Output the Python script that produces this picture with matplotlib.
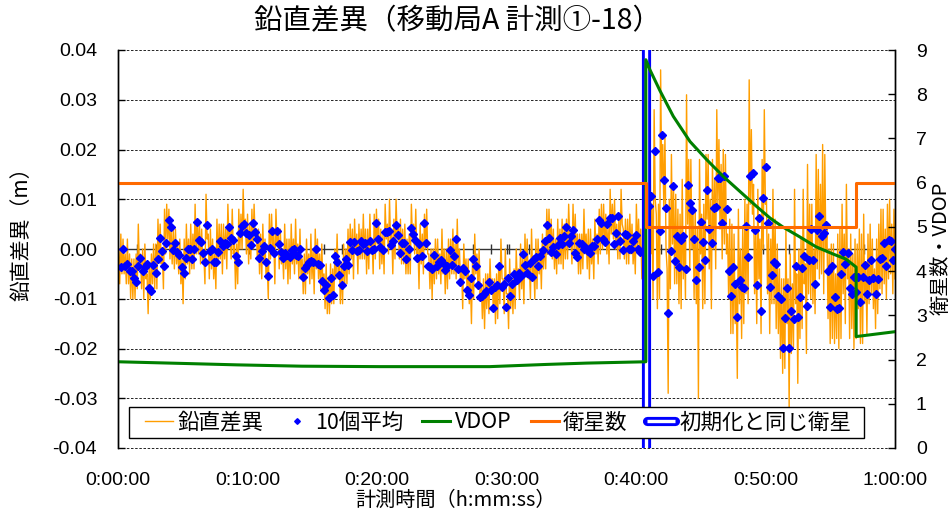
import numpy as np
import matplotlib
matplotlib.use("Agg")
import matplotlib.pyplot as plt
import matplotlib.patheffects as pe
from matplotlib.lines import Line2D
from matplotlib.patches import Rectangle
from matplotlib.ticker import FormatStrFormatter

plt.rcParams['font.family'] = ['Noto Sans CJK JP', 'DejaVu Sans']
plt.rcParams['axes.unicode_minus'] = False

# ---------------- data (vertical difference in mm, time in minutes) ----------------
# raw vertical difference, before initialisation (about every 5 s)
orange_pre = [
    0,-7, 3,-5, 2,-5, -1,-7, 2,-7, -1,-10, -2,-10, -2,-10, -1,-8, 5,-4,
    -1,-8, 0,-10, 1,-6, -5,-13, -3,-10, -1,-7, 1,-8, 1,-8, 6,-2, 5,-3,
    -1,-8, 8,-1, 9,2, 8,-2, 4,-3, 4,-4, 4,-3, 1,-5, 2,-7, -2,-11,
    2,-6, 5,-3, 2,-5, 5,-4, 3,-4, 9,-1, 6,-1, 5,-3, 4,-3, -1,-7,
    11,2, 3,-6, 4,-4, 2,-6, -1,-8, 6,-3, 5,-2, 5,-5, 5,-2, 4,-4,
    9,2, 4,-2, 8,-1, 1,-8, 1,-7, 8,0, 7,0, 12,3, 6,-1, 7,-3,
    5,-2, 8,0, 9,2, 4,-2, 4,-5, 3,-6, 5,-3, 2,-6, -3,-10, 7,-2,
    7,0, 3,-7,
    8,1, 4,-4, 4,-3, 0,-6, 5,-4, 2,-7, 2,-6, 5,-3, 2,-5, 6,-3,
    1,-6, 4,-6, -2,-9, -1,-9, 2,-5, -1,-7, 3,-6, 0,-9, 4,-4, 2,-6,
    -1,-8, 1,-8, -5,-12, -3,-13, -6,-13, -3,-11, -4,-11, 0,-6, 3,-6, -2,-11,
    -3,-11, 1,-7, 0,-7, 4,-5, 5,-2, 4,-6, 6,-1, 3,-5, 5,-2, 4,-2,
    7,-2, 4,-5, 4,-4, 7,-1, 2,-5, 7,-2, 8,1, 6,-4, 4,-3, 3,-5,
    9,2, 5,-1, 10,1, 4,-5, 6,-2, 10,2, 5,-2, 6,-3, 4,-3, 5,-5,
    2,-5, 3,-5, 9,2, 5,-1, 8,-1, 1,-8, 5,-3, 3,-5, 7,0, 8,-1,
    -1,-8, 0,-10, 0,-7, 2,-6,
    2,-5, -1,-7, 4,-5, 0,-9, 0,-8, 2,-6, 2,-5, 4,-5, 1,-6, 6,-4,
    0,-7, -4,-12, 1,-6, -2,-8, -2,-11, -6,-15, -2,-10, 3,-5, -1,-8, 0,-9,
    -7,-14, -6,-16, -5,-12, -5,-13, -2,-9, -6,-12, -6,-15, -5,-14, -3,-11, 2,-6,
    -6,-13, 0,-9, -9,-16, -2,-12, -6,-13, -4,-12, 0,-7, -4,-10, 1,-8, -2,-11,
    3,-5, 2,-6, -3,-10, 4,-5, -3,-10, 2,-8, 2,-5, 0,-8, 3,-4, 2,-4,
    8,-1, 8,-1, 6,-2, 4,-4, 2,-5, 6,-3, 4,-3, 6,-4, 5,-2, 6,-2,
    9,2, 3,-3, 9,0, 7,-2, 3,-5, 3,-5, 3,-4, 8,-1, 3,-4, 4,-6,
    4,-3, 2,-6, 6,-1, 3,-3, 8,-1, 9,0, 9,1, 7,-1, 4,-3, 12,3,
    9,2, 10,0, 5,-2, 6,-2, 12,5, 4,-2, 6,-3, 6,-3, 7,-1, 5,-3,
    2,-5, 9,0, 6,-1, 4,-6, 3,-4,
]
# raw vertical difference, after initialisation
orange_post = [
    19,1, 35,-1, 9,-10, 28,10, 7,-12, 9,-10, 36,14, 21,8, 23,0, -4,-29,
    10,-8, 19,1, 12,-7, 11,-7, 8,-11, 7,-12, 14,-6, 3,-10, 31,5, 18,-4,
    18,0, 8,-10, 8,-11, 4,-30, 18,-1, 7,-12, 9,-11, 19,6, 19,-4, 10,-12,
    18,0, 14,-4, 28,9, 22,4, 17,-2, 20,1, 19,-1, 3,-10, 6,-17, 5,-17,
    3,-15, -8,-26, 8,-11, 0,-18, 4,-15, 10,-9, 9,-11, 34,9, 24,7, 13,-9,
    3,-15, 12,-6, 2,-17, 18,0, 28,9, 10,-9, 3,-17,
    2,-11, 12,-11, 6,-16, 1,-17, -4,-22, -6,-25, -6,-24, 4,-15, -6,-32, -1,-21,
    -7,-20, 12,-11, -5,-27, 0,-18, 2,-16, 12,-7, -3,-21, 17,-9, 9,-10, 9,-11,
    0,-13, 19,-4, 16,-6, 13,-5, 21,-9, 19,0, 4,-14, 0,-19, 1,-18, 1,-19,
    -5,-18, 3,-20, 4,-18, 9,-9, 3,-15, 13,-6, 0,-18, 3,-16, -1,-20, 2,-18,
    1,-12, 4,-19, 3,-19, 7,-11, -3,-17, 3,-11, 5,-9, 2,-12, -4,-16, 2,-13,
    5,-8, 8,-9, 8,-7, 4,-10, 9,-6, 10,-5, 5,-9, 8,-6,
]
# 10-point averages (every 10 s)
avg_pre = [
    -3.7, 0, -3.4, -3, -4.4, -4.5, -5.8, -6.6, -3.4, -1.8,
    -4.4, -3.6, -3, -7.9, -8.4, -3.2, -4.8, -2, 2.3, -0.5,
    -3.4, 1.2, 5.8, 4.5, -0.2, 1.2, -0.7, -1.3, -3.6, -4.9,
    -1.8, -0.1, 0.1, -2, 0, 5.4, 1.8, 1.5, -0.8, -2.6,
    4.8, -0.5, 0, -2.6, -2.6, -0.7, 1.7, 0.7, 1.3, 1,
    4.5, 2.2, 1.9, -1.5, -2.7, 3.2, 4.7, 5, 3.2, 2.9,
    0.9, 5.2, 3.5, 2, -1.9, -0.5, 0.7, -2.6, -5.4, 0.3,
    3.6, -0.9,
    3.6, 1.1, -0.7, -1.9, -0.9, -1.3, -1.7, -0.2, 0, -1.3,
    -1.5, 0, -5.6, -3.8, -3.2, -2.7, -2.5, -2.6, 0.1, -3,
    -3.2, -6.4, -8.3, -7.2, -9.9, -5.8, -9.2, -1.5, -2.6, -5.2,
    -7.2, -3.5, -2, -3.2, 1.5, -0.3, 1.5, -0.5, -0.2, 1.7,
    1, 1.3, -0.5, 1.7, -0.3, 0, 5.2, 2, 0.5, -0.3,
    3.5, 3.4, 3.6, 0.8, 1.7, 4.8, 2.9, -0.8, 1.3, 1.3,
    -2.1, -0.1, 4.2, 3, 1.8, -1.8, 1, -1.5, 5.2, 1.3,
    -3.5, -3.7, -4, -1.3,
    -3.4, -2.7, -2.3, -2.9, -4.2, -3.4, -0.3, -3.2, -1.5, 2.1,
    -4, -6.6, -3.8, -4.4, -8.3, -9.2, -5.9, -2.1, -3.4, -7.2,
    -9.6, -9.5, -9.1, -8.4, -6.7, -8.3, -11.9, -7.6, -7.2, -3.4,
    -7.6, -7, -11.7, -5.9, -9.5, -7, -5, -6.2, -4.8, -5.4,
    -1.1, -3.2, -4.9, -2.8, -5.6, -2, -1.7, -3.4, -1.5, -0.2,
    1.7, 4.8, 2.3, -0.7, 0.5, -1, 0.8, 2.2, 1.1, 2.7,
    4.4, 1.3, 2.7, 3.8, -0.9, -1.7, 1.2, 1.1, 0.1, 0.3,
    -0.5, -0.9, 0.7, 0.7, 2, 5.9, 5.2, 2.1, 1.5, 5,
    6.2, 6.2, 1, 3.2, 6.7, 1.7, -0.2, 3, 2.9, 0,
    0, 1.7, 2.8, 0, -0.7,
]
avg_post = [
    8.6, 10.6, -5.4, 19.7, -4.7, 3.6, 23, 13.8, 8.2, -12.8,
    -0.5, 12.6, -2.5, 2.6, -3.7, 1.9, 2.6, -4.1, 12.8, 9.3,
    7.8, 2.1, -6.2, -3.7, 5.5, 1.5, -2.2, 11.8, 4.1, 1.3,
    8.3, 8.5, 14.3, 14.2, 5.3, 14.6, 8, -4.5, -9.4, -3.7,
    -7, -13.6, -6.2, -7.6, -7.8, 4.6, -1.7, 14.7, 15.3, 3.8,
    -7.2, 6.2, -12.4, 10.2, 16.4, 5.3, -7.6,
    -5.2, -2.7, -3, -9.4, -10.1, -19.8, -13.9, -7.9, -19.8, -12.4,
    -14.1, -3.4, -13.7, -9.7, -3.9, -1.5, -11.4, -2.2, 4.1, -2.2,
    -7, 3.8, 6.7, 2.7, 3.3, 4.8, -4.5, -11.6, -3.5, -9.7,
    -12.1, -11.8, -5, -0.7, -3, -0.9, -7.8, -9, -5.6, -8.6,
    -5.6, -10.7, -5.7, -3.2, -9.1, -6.2, -2.3, -5.8, -9.1, -6.1,
    -2.1, -1.9, 1.3, -3.5, 1.9, 1.7, -2.2, 0.1,
]
# VDOP (right axis)
vdop_t = [0.0, 5.3, 9.2, 14.2, 20.2, 28.7, 33.1, 36.2, 40.76, 40.76, 41.08, 41.85,
          42.88, 44.17, 45.46, 46.74, 48.03, 49.32, 50.35, 51.33, 52.61, 53.90,
          55.19, 56.22, 57.0, 57.0, 60.0]
vdop = [1.95, 1.91, 1.88, 1.85, 1.84, 1.84, 1.89, 1.92, 1.95, 8.78, 8.55, 8.08,
        7.5, 6.93, 6.52, 6.14, 5.8, 5.46, 5.2, 5.0, 4.78, 4.55,
        4.39, 4.27, 4.09, 2.52, 2.63]
# number of satellites (right axis)
sat_t = [0.0, 40.76, 40.76, 57.0, 57.0, 60.0]
sat = [6, 6, 5, 5, 6, 6]
# re-initialisation with the same satellites
init_t = 40.76
# tick marks on the zero axis line
zero_axis_ticks = [1.5, 2.9, 10.1, 15.9, 17.3, 27.4, 28.8, 30.0, 30.2, 31.7,
                   33.1, 41.9, 49.8, 51.8, 57.6]

x_ticks = [0, 10, 20, 30, 40, 50, 60]
x_ticklabels = ['0:00:00', '0:10:00', '0:20:00', '0:30:00', '0:40:00', '0:50:00', '1:00:00']
y_ticks = [-0.04, -0.03, -0.02, -0.01, 0.0, 0.01, 0.02, 0.03, 0.04]
y2_ticks = list(range(10))

legend_labels = ['鉛直差異', '10個平均', 'VDOP', '衛星数', '初期化と同じ衛星']

# ---------------- figure ----------------
W, H = 952, 515
fig = plt.figure(figsize=(W / 100, H / 100), dpi=100)
ax = fig.add_axes([118 / W, 1 - 448 / H, 777 / W, 398 / H])
ax2 = ax.twinx()

ORANGE = '#FF9E00'
SATC = '#FF6A00'
GREEN = '#008000'
BLUE = '#0000FF'

t_or = np.concatenate([np.linspace(0.05, 40.62, len(orange_pre)),
                       np.linspace(40.9, 60.0, len(orange_post))])
v_or = np.array(orange_pre + orange_post, dtype=float) / 1000.0
t_av = np.concatenate([np.linspace(0.23, 40.3, len(avg_pre)),
                       np.linspace(41.0, 60.0, len(avg_post))])
v_av = np.array(avg_pre + avg_post, dtype=float) / 1000.0

# grid lines (dashed) and zero axis line
for v in y_ticks:
    if v == 0.0:
        continue
    ax.axhline(v, color='black', lw=0.6, ls=(0, (3, 2)), zorder=1, clip_on=False)
ax.axhline(0.0, color='#333333', lw=1.0, zorder=1.2)
ax.plot(zero_axis_ticks, [0.0] * len(zero_axis_ticks), ls='none', marker='|',
        ms=7, mew=1.0, color='#333333', zorder=1.2)

h_or, = ax.plot(t_or, v_or, color=ORANGE, lw=1.0, zorder=2)
h_av, = ax.plot(t_av, v_av, ls='none', marker='D', ms=3.6, color=BLUE,
                mec=BLUE, zorder=3)

ax.set_xlim(0, 60)
ax.set_ylim(-0.04, 0.04)
ax.set_xticks(x_ticks)
ax.set_xticklabels(x_ticklabels)
ax.set_yticks(y_ticks)
ax.yaxis.set_major_formatter(FormatStrFormatter('%.2f'))
ax.tick_params(axis='x', length=0, pad=17, labelsize=14, labelfontfamily='Liberation Sans')
ax.tick_params(axis='y', direction='in', length=5, width=1, pad=15, labelsize=14,
               labelfontfamily='Liberation Sans')

# right axis
ax2.axvline(init_t, color='white', lw=2.4, zorder=1,
            path_effects=[pe.Stroke(linewidth=6.6, foreground=BLUE), pe.Normal()])
h_vdop, = ax2.plot(vdop_t, vdop, color=GREEN, lw=2.2, zorder=2)
h_sat, = ax2.plot(sat_t, sat, color=SATC, lw=2.2, zorder=2)
ax2.set_ylim(0, 9)
ax2.set_yticks(y2_ticks)
ax2.tick_params(axis='y', direction='in', length=5, width=1, pad=15, labelsize=14,
                labelfontfamily='Liberation Sans')

for a in (ax, ax2):
    a.spines['top'].set_visible(False)
    a.spines['bottom'].set_visible(False)
    a.spines['left'].set_linewidth(1.0)
    a.spines['right'].set_linewidth(1.0)

# legend frame
frame = Rectangle((129 / W, 1 - 438 / H), 735 / W, 31 / H, transform=fig.transFigure,
                  facecolor='white', edgecolor='black', lw=1.0, zorder=9, clip_on=False)
ax2.add_patch(frame)

h_init_leg = Line2D([], [], color='white', lw=2.4, solid_capstyle='butt',
                    path_effects=[pe.Stroke(linewidth=6.6, foreground=BLUE, capstyle='round'),
                                  pe.Normal()])
handles = [h_or, h_av, h_vdop, h_sat, h_init_leg]
leg = ax2.legend(handles, legend_labels, loc='center left',
                 bbox_to_anchor=(27 / 777, 10 / 398, 706 / 777, 31 / 398),
                 mode='expand', ncol=5, frameon=False, borderaxespad=0,
                 handlelength=1.3, handletextpad=0.2, fontsize=15.5,
                 borderpad=0.0, numpoints=1, markerscale=0.8)
leg.set_zorder(10)

fig.text(457 / W, 1 - 21 / H, '鉛直差異（移動局A 計測①-18）', ha='center', va='center',
         fontsize=20.5)
fig.text(456 / W, 1 - 500 / H, '計測時間（h:mm:ss）', ha='center', va='center', fontsize=14.5)
fig.text(22 / W, 1 - 229 / H, '鉛直差異（m）', ha='center', va='center', rotation=90,
         fontsize=15)
fig.text(941 / W, 1 - 248 / H, '衛星数・VDOP', ha='center', va='center', rotation=90,
         fontsize=14.5)

fig.savefig('out.png', dpi=100)
